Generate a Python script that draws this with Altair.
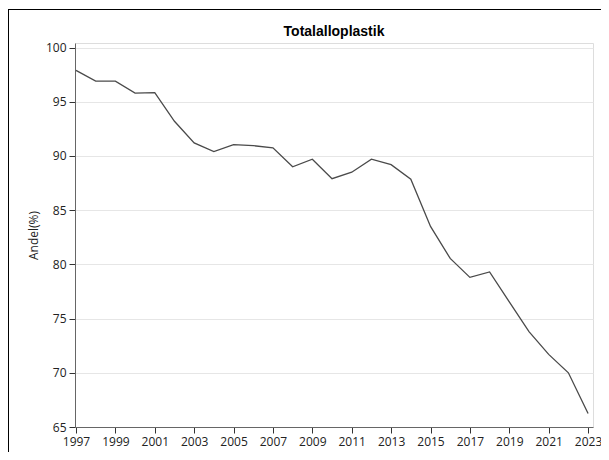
import altair as alt
import pandas as pd

years = list(range(1997, 2024))
andel = [97.9, 96.9, 96.9, 95.8, 95.85, 93.2, 91.2, 90.4, 91.05, 90.95,
         90.75, 89.0, 89.7, 87.9, 88.5, 89.7, 89.2, 87.85, 83.5, 80.55,
         78.8, 79.3, 76.55, 73.8, 71.7, 70.0, 66.25]
x_ticks = list(range(1997, 2024, 2))
y_ticks = [65, 70, 75, 80, 85, 90, 95, 100]
title_text = "Totalalloplastik"

df = pd.DataFrame({"year": years, "andel": andel})
title_df = pd.DataFrame({"t": [title_text]})

W, H = 518, 384
FONT = "Open Sans"

line = alt.Chart(df).mark_line(color="#4a4a4a", strokeWidth=1.3).encode(
    x=alt.X("year:Q",
            scale=alt.Scale(domain=[1996.95, 2023.25], nice=False, zero=False),
            axis=alt.Axis(values=x_ticks, format="d", title=None, grid=False,
                          tickSize=6, tickColor="#333", labelPadding=3,
                          labelFont=FONT, labelFontSize=12, labelColor="#222",
                          domainColor="#666", labelFlush=False)),
    y=alt.Y("andel:Q",
            scale=alt.Scale(domain=[65, 100.42], nice=False, zero=False),
            axis=alt.Axis(values=y_ticks, title="Andel(%)", grid=True,
                          gridColor="#e6e6e6", tickSize=6, tickColor="#333",
                          labelPadding=3, labelFont=FONT, labelFontSize=12,
                          labelColor="#222", domainColor="#666",
                          titleFont=FONT, titleFontSize=12, titleFontWeight="normal",
                          titleColor="#222", titleX=-42, titleY=H / 2,
                          titleAngle=270, titleAlign="center",
                          titleBaseline="middle")),
)

title = alt.Chart(title_df).mark_text(
    font="Liberation Sans", fontSize=14, fontWeight="bold", color="#000",
    align="center", baseline="alphabetic"
).encode(x=alt.value(W / 2), y=alt.value(-7), text="t:N")

frame_left = alt.Chart(title_df).mark_rule(color="#000", strokeWidth=1).encode(
    x=alt.value(-66.5), y=alt.value(-34), y2=alt.value(H + 60)
)
frame_top = alt.Chart(title_df).mark_rule(color="#000", strokeWidth=1).encode(
    x=alt.value(-66.5), x2=alt.value(W + 20), y=alt.value(-33.5)
)

chart = alt.layer(line, title, frame_left, frame_top).properties(
    width=W, height=H,
    autosize=alt.AutoSizeParams(type="none"),
    padding={"left": 67, "top": 35, "right": 8, "bottom": 25},
).configure_view(stroke="#777", strokeWidth=1.5).configure(background="white")

chart.save("out.html", embed_options={"renderer": "svg", "actions": False})
